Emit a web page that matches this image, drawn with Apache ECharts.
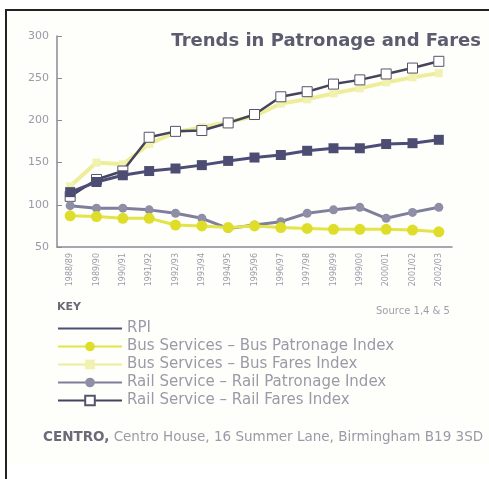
<!DOCTYPE html>
<html><head><meta charset="utf-8">
<script src="https://cdn.jsdelivr.net/npm/echarts@6/dist/echarts.min.js"></script>
<style>html,body{margin:0;padding:0;background:#fff}#c{width:489px;height:479px}</style>
</head><body><div id="c"></div>
<script>
var years = ['1988/89','1989/90','1990/91','1991/92','1992/93','1993/94','1994/95','1995/96','1996/97','1997/98','1998/99','1999/00','2000/01','2001/02','2002/03'];
var yTicks = [50, 100, 150, 200, 250, 300];
var rpi = [115, 127, 135, 140, 143, 147, 152, 156, 159, 164, 167, 167, 172, 173, 177];
var busPatronage = [87, 86, 84, 84, 76, 75, 73, 75, 73, 72, 71, 71, 71, 70, 68];
var busFares = [122, 150, 148, 172, 186, 192, 198, 205, 220, 225, 232, 238, 245, 251, 256];
var railPatronage = [99, 96, 96, 94, 90, 84, 72, 76, 80, 90, 94, 97, 84, 91, 97];
var railFares = [110, 130, 140, 180, 187, 188, 197, 207, 228, 234, 243, 248, 255, 262, 270];
var names = ['RPI','Bus Services – Bus Patronage Index','Bus Services – Bus Fares Index','Rail Service – Rail Patronage Index','Rail Service – Rail Fares Index'];

var chart = echarts.init(document.getElementById('c'), null, {renderer:'canvas'});
var font = 'DejaVu Sans';
chart.setOption({
  backgroundColor: '#ffffff',
  animation: false,
  textStyle: {fontFamily: font},
  grid: {left: 57, top: 36, width: 395, height: 211, containLabel: false},
  xAxis: {
    type: 'category', data: years, boundaryGap: true,
    axisLine: {lineStyle: {color: '#8a8a9a', width: 1.5}},
    axisTick: {inside: true, length: 4, lineStyle: {color: '#8a8a9a'}},
    axisLabel: {rotate: 90, fontSize: 8, color: '#9a9aa8', margin: 6, interval: 0}
  },
  yAxis: {
    type: 'value', min: yTicks[0], max: yTicks[yTicks.length-1], interval: 50,
    axisLine: {show: true, lineStyle: {color: '#8a8a9a', width: 1.5}},
    axisTick: {show: true, inside: true, length: 5, lineStyle: {color: '#8a8a9a'}},
    splitLine: {show: false},
    axisLabel: {fontSize: 11, color: '#9a9aa8', margin: 8,
      formatter: function(v){ return yTicks.indexOf(v) >= 0 ? String(v) : ''; }}
  },
  legend: {
    orient: 'vertical', left: 57, top: 321, itemWidth: 64, itemHeight: 12, itemGap: 3, padding: 0,
    textStyle: {fontSize: 15, color: '#9a9aa8', fontFamily: font},
    data: [
      {name: names[0], itemStyle: {opacity: 0}},
      names[1], names[2], names[3], names[4]
    ]
  },
  title: [
    {text: 'Trends in Patronage and Fares', right: 8, top: 32, padding: 0,
     textStyle: {fontSize: 18, fontWeight: 'bold', color: '#5c5c6e', fontFamily: font}},
    {text: 'KEY', left: 57, top: 302, padding: 0, textStyle: {fontSize: 11, fontWeight: 'bold', color: '#6a6a78', fontFamily: font}},
    {text: 'Source 1,4 & 5', left: 376, top: 306, padding: 0, textStyle: {fontSize: 10, fontWeight: 'normal', color: '#a0a0aa', fontFamily: font}},
    {text: '{b|CENTRO,} Centro House, 16 Summer Lane, Birmingham B19 3SD', left: 43, top: 430, padding: 0,
     textStyle: {fontSize: 13.5, fontWeight: 'normal', color: '#9a9aa8', fontFamily: font,
       rich: {b: {fontSize: 13.5, fontWeight: 'bold', color: '#6a6a78', fontFamily: font}}}}
  ],
  graphic: [
    {type: 'rect', z: -10, shape: {x: 6, y: 10, width: 483, height: 455}, style: {fill: '#fefefb'}},
    {type: 'line', z: 100, shape: {x1: 5, y1: 10, x2: 489, y2: 10}, style: {stroke: '#222', lineWidth: 2}},
    {type: 'line', z: 100, shape: {x1: 6, y1: 10, x2: 6, y2: 479}, style: {stroke: '#222', lineWidth: 2}}
  ],
  series: [
    {name: names[2], type: 'line', data: busFares, z: 2,
     lineStyle: {color: '#eeee9a', width: 4}, itemStyle: {color: '#f2f2b0'},
     symbol: 'rect', symbolSize: 8},
    {name: names[4], type: 'line', data: railFares, z: 3,
     lineStyle: {color: '#44445c', width: 2.5}, itemStyle: {color: '#ffffff', borderColor: '#55556a', borderWidth: 1},
     symbol: 'rect', symbolSize: 10},
    {name: names[0], type: 'line', data: rpi, z: 4,
     lineStyle: {color: '#4d4d78', width: 3}, itemStyle: {color: '#4d4d74'},
     symbol: 'rect', symbolSize: 10},
    {name: names[3], type: 'line', data: railPatronage, z: 4,
     lineStyle: {color: '#7f7f9c', width: 3}, itemStyle: {color: '#8e8ea6'},
     symbol: 'circle', symbolSize: 9},
    {name: names[1], type: 'line', data: busPatronage, z: 5,
     lineStyle: {color: '#e4e44a', width: 3}, itemStyle: {color: '#dede2a'},
     symbol: 'circle', symbolSize: 11}
  ]
});
</script></body></html>
